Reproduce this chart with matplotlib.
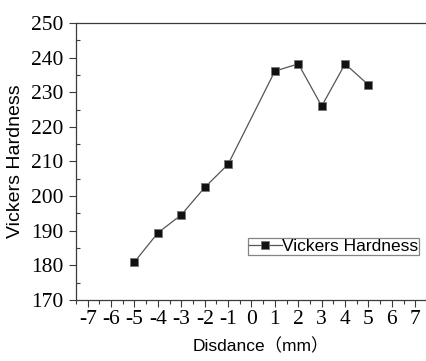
import numpy as np
import matplotlib
matplotlib.use('Agg')
import matplotlib.pyplot as plt
from matplotlib.ticker import MultipleLocator

# data
distance = [-5, -4, -3, -2, -1, 1, 2, 3, 4, 5]
hardness = [181.0, 189.4, 194.6, 202.5, 209.2, 236.1, 238.2, 226.0, 238.2, 232.1]
series_label = 'Vickers Hardness'
x_label = 'Disdance（mm）'
y_label = 'Vickers Hardness'

plt.rcParams['axes.unicode_minus'] = False

sans = ['Liberation Sans', 'Noto Sans CJK SC', 'DejaVu Sans']
serif = ['Liberation Serif', 'DejaVu Serif']
edge = '#3a3a3a'

fig = plt.figure(figsize=(4.27, 3.61), dpi=100)
ax = fig.add_axes([76 / 427, 1 - 300 / 361, 1 - 76 / 427, 277 / 361])

ax.plot(distance, hardness, color='#555555', lw=0.9,
        marker='s', markersize=5.2, markerfacecolor='#111111',
        markeredgecolor='#777777', markeredgewidth=0.6, label=series_label)

ax.set_xlim(-7.5, 7.5)
ax.set_ylim(170, 250)
ax.xaxis.set_major_locator(MultipleLocator(1))
ax.xaxis.set_minor_locator(MultipleLocator(0.5))
ax.yaxis.set_major_locator(MultipleLocator(10))
ax.yaxis.set_minor_locator(MultipleLocator(5))

for s in ('left', 'bottom', 'top'):
    ax.spines[s].set_color(edge)
    ax.spines[s].set_linewidth(0.9)
ax.spines['right'].set_visible(False)

ax.tick_params(axis='both', which='major', direction='out', length=5,
               width=0.8, color=edge, labelsize=15.5, pad=2)
ax.tick_params(axis='x', which='minor', direction='out', length=3,
               width=0.8, color=edge)
ax.tick_params(axis='y', which='minor', direction='in', length=3,
               width=0.8, color=edge)
ax.tick_params(axis='y', which='major', pad=4)
ax.tick_params(top=False, right=False, which='both')
for lab in ax.get_xticklabels() + ax.get_yticklabels():
    lab.set_family(serif)

ax.set_xlabel(x_label, family=sans, fontsize=12.5, labelpad=7)
ax.xaxis.set_label_coords(0.527, -0.135)
ax.set_ylabel(y_label, family=sans, fontsize=14, labelpad=5)

leg = ax.legend(loc='lower left', bbox_to_anchor=(0.49, 0.163),
                prop={'family': sans, 'size': 12.5},
                frameon=True, fancybox=False, borderpad=0.05,
                handlelength=1.9, handletextpad=0.0, borderaxespad=0)
leg.get_frame().set_edgecolor('#666666')
leg.get_frame().set_linewidth(0.9)

fig.savefig('out.png', dpi=100)
